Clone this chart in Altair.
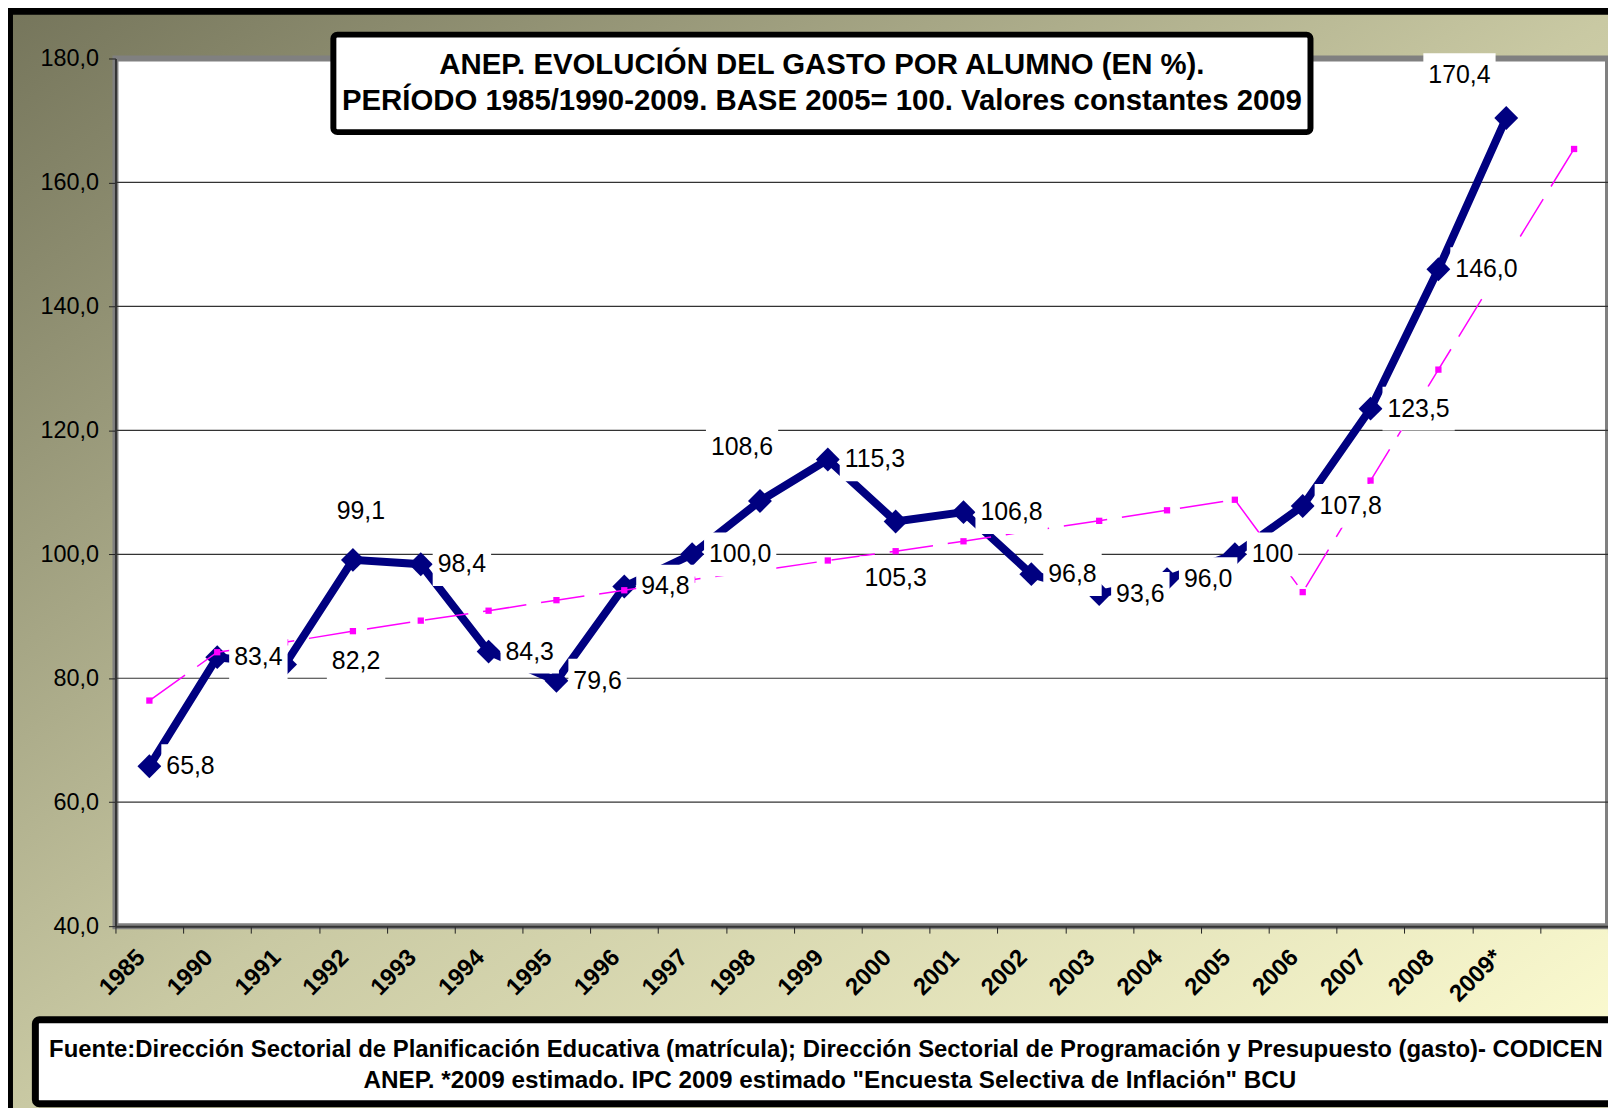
import altair as alt
import pandas as pd

# ---------------- data ----------------
YEARS = ["1985", "1990", "1991", "1992", "1993", "1994", "1995", "1996", "1997",
         "1998", "1999", "2000", "2001", "2002", "2003", "2004", "2005", "2006",
         "2007", "2008", "2009*", " "]
GASTO = [65.8, 83.4, 82.2, 99.1, 98.4, 84.3, 79.6, 94.8, 100.0, 108.6, 115.3,
         105.3, 106.8, 96.8, 93.6, 96.0, 100.0, 107.8, 123.5, 146.0, 170.4]
GASTO_LABELS = ["65,8", "83,4", "82,2", "99,1", "98,4", "84,3", "79,6", "94,8",
                "100,0", "108,6", "115,3", "105,3", "106,8", "96,8", "93,6",
                "96,0", "100", "107,8", "123,5", "146,0", "170,4"]
LABEL_PLACE = ["r", "r", "rr", "a", "r", "r", "r", "r", "r", "al", "r", "b",
               "r", "r", "r", "r", "r", "r", "r", "r", "al2"]
PINK = [76.4, 84.2, 85.8, 87.6, 89.3, 90.9, 92.6, 94.2, 95.9, 97.4, 99.0, 100.5,
        102.1, 103.8, 105.4, 107.1, 108.8, 93.9, 111.9, 129.8, None, 165.4]
Y_TICKS = [40, 60, 80, 100, 120, 140, 160, 180]
GRID = [60, 80, 100, 120, 140, 160]
TITLE_LINES = ["ANEP. EVOLUCIÓN DEL GASTO POR ALUMNO (EN %).",
               "PERÍODO 1985/1990-2009. BASE 2005= 100. Valores constantes 2009"]
FOOTER_LINES = ["Fuente:Dirección Sectorial de Planificación Educativa (matrícula); "
                "Dirección Sectorial de Programación y Presupuesto (gasto)- CODICEN",
                "ANEP. *2009 estimado. IPC 2009 estimado \"Encuesta Selectiva de Inflación\" BCU"]

# ---------------- layout / style ----------------
W, H = 1500, 872
FONT = "Liberation Sans"
NAVY = "#000080"
PINKC = "#ff00ff"
LBL_FS = 25
PLACE = {
    "r":   dict(dx=17, dy=0, align="left"),
    "rr":  dict(dx=47, dy=-4, align="left"),
    "a":   dict(dx=8, dy=-49, align="center"),
    "al":  dict(dx=-18, dy=-54, align="center"),
    "b":   dict(dx=0, dy=57, align="center"),
    "al2": dict(dx=-47, dy=-43, align="center"),
}


def text_w(s, fs):
    return fs * sum(0.556 if c.isdigit() else 0.278 for c in s)


def box_path(label, place):
    p = PLACE[place]
    w = text_w(label, LBL_FS)
    if p["align"] == "left":
        x0, x1 = p["dx"] - 5, p["dx"] + w + 5
    else:
        x0, x1 = p["dx"] - w / 2 - 5, p["dx"] + w / 2 + 5
    y0, y1 = p["dy"] - 22, p["dy"] + 22
    return f"M{x0:.1f},{y0:.1f}H{x1:.1f}V{y1:.1f}H{x0:.1f}Z"


blue_df = pd.DataFrame({"cat": YEARS[:len(GASTO)], "v": GASTO, "i": range(len(GASTO)),
                        "label": GASTO_LABELS, "place": LABEL_PLACE})
blue_df["box"] = [box_path(l, p) for l, p in zip(GASTO_LABELS, LABEL_PLACE)]
pink_df = pd.DataFrame({"cat": YEARS, "v": PINK, "i": range(len(YEARS))}).dropna()
grid_df = pd.DataFrame({"v": GRID})
one = pd.DataFrame({"k": [0]})

X = alt.X("cat:N", title=None,
          scale=alt.Scale(domain=YEARS, paddingInner=0, paddingOuter=0),
          axis=alt.Axis(title=None, labelAngle=-45, labelAlign="right",
                        labelBaseline="bottom", labelFontSize=24,
                        labelFontWeight="bold", labelFont=FONT, labelColor="black",
                        tickBand="extent", tickSize=7, tickColor="#222222",
                        domainColor="#333333", domainWidth=2, labelPadding=29,
                        zindex=1, grid=False, labelOverlap=False))
Y = alt.Y("v:Q", title=None,
          scale=alt.Scale(domain=[40, 180], nice=False, zero=False),
          axis=alt.Axis(title=None, values=Y_TICKS,
                        labelExpr="replace(format(datum.value, '.1f'), '.', ',')",
                        labelFontSize=23.5, labelFont=FONT, labelColor="black",
                        tickSize=7, tickColor="#222222", labelPadding=10,
                        domainColor="#333333", domainWidth=2, grid=False, zindex=1))

gradient = {
    "gradient": "linear", "x1": 0, "y1": 0, "x2": 1, "y2": 1,
    "stops": [
        {"offset": 0, "color": "#75755b"},
        {"offset": 0.5, "color": "#c9c9a3"},
        {"offset": 1, "color": "#fffed3"},
    ],
}

bg = alt.Chart(one).mark_rect(fill=gradient, stroke="black", strokeWidth=10).encode(
    x=alt.value(-108), x2=alt.value(1512), y=alt.value(-49), y2=alt.value(1064))

plot_bg = alt.Chart(one).mark_rect(fill="white", stroke="#808080", strokeWidth=6).encode(
    x=alt.value(0), x2=alt.value(W), y=alt.value(0), y2=alt.value(H))

grid = alt.Chart(grid_df).mark_rule(color="#333333", strokeWidth=1.2).encode(
    y=Y, x=alt.value(0), x2=alt.value(W))

blue_line = alt.Chart(blue_df).mark_line(color=NAVY, strokeWidth=8, strokeJoin="miter").encode(
    x=X, y=Y, order=alt.Order("i:Q"))
blue_pts = alt.Chart(blue_df).mark_point(shape="diamond", filled=True, size=576,
                                         color=NAVY, opacity=1).encode(x=X, y=Y)

pink_line = alt.Chart(pink_df).mark_line(color=PINKC, strokeWidth=1.5,
                                         strokeDash=[44, 15]).encode(
    x=X, y=Y, order=alt.Order("i:Q"))
pink_pts = alt.Chart(pink_df).mark_point(shape="square", filled=True, size=40,
                                         color=PINKC, opacity=1).encode(x=X, y=Y)

boxes = alt.Chart(blue_df).mark_point(filled=True, fill="white", strokeWidth=0,
                                      opacity=1, size=4).encode(
    x=X, y=Y, shape=alt.Shape("box:N", scale=None))

texts = []
for code, p in PLACE.items():
    texts.append(
        alt.Chart(blue_df).transform_filter(alt.datum.place == code).mark_text(
            font=FONT, fontSize=LBL_FS, color="black", baseline="middle",
            align=p["align"], dx=p["dx"], dy=p["dy"]).encode(
            x=X, y=Y, text="label:N"))


def text_layer(s, x, y, **kw):
    return alt.Chart(pd.DataFrame({"t": [s]})).mark_text(**kw).encode(
        x=alt.value(x), y=alt.value(y), text="t:N")


title_box = alt.Chart(one).mark_rect(fill="white", stroke="black", strokeWidth=6,
                                     cornerRadius=4).encode(
    x=alt.value(219), x2=alt.value(1201), y=alt.value(-24), y2=alt.value(74))
title1 = text_layer(TITLE_LINES[0], 710, 7, font=FONT, fontSize=29.5, fontWeight="bold",
                    align="center", baseline="middle", color="black")
title2 = text_layer(TITLE_LINES[1], 710, 43, font=FONT, fontSize=29.5, fontWeight="bold",
                    align="center", baseline="middle", color="black")

foot_box = alt.Chart(one).mark_rect(fill="white", stroke="black", strokeWidth=7,
                                    cornerRadius=4).encode(
    x=alt.value(-80.5), x2=alt.value(1560), y=alt.value(966), y2=alt.value(1050.5))
foot1 = text_layer(FOOTER_LINES[0], 714, 996.5, font=FONT, fontSize=24, fontWeight="bold",
                   align="center", baseline="middle", color="black")
foot2 = text_layer(FOOTER_LINES[1], 718, 1028, font=FONT, fontSize=24.4, fontWeight="bold",
                   align="center", baseline="middle", color="black")

chart = alt.layer(
    bg, plot_bg, grid, blue_line, blue_pts, pink_line, pink_pts, boxes, *texts,
    title_box, title1, title2, foot_box, foot1, foot2
).properties(
    width=W, height=H,
    autosize=alt.AutoSizeParams(type="none"),
    padding={"left": 108, "top": 48, "right": 0, "bottom": 180},
).configure_view(strokeWidth=0).configure(background="white")

chart.save("out.html", embed_options={"renderer": "svg", "actions": False})
